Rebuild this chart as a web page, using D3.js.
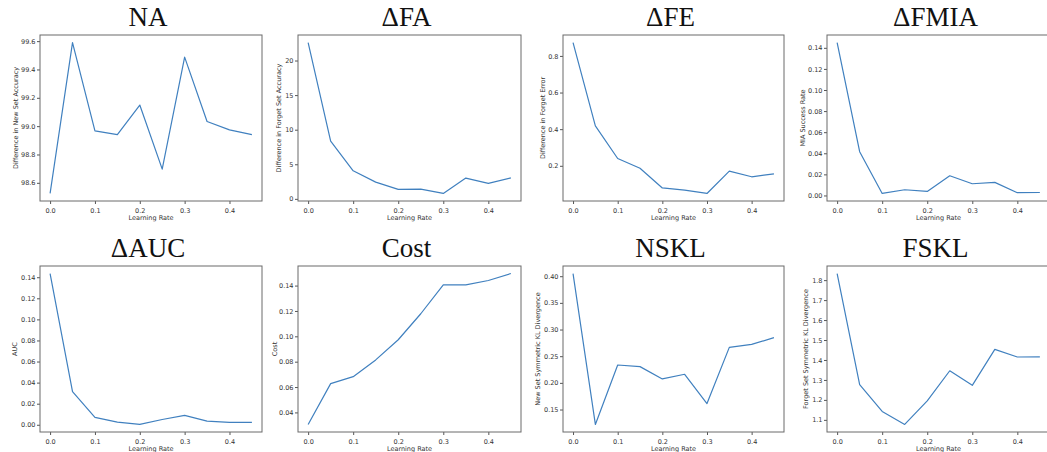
<!DOCTYPE html>
<html>
<head>
<meta charset="utf-8">
<script src="https://cdn.jsdelivr.net/npm/d3@7"></script>
<style>
  body { margin: 0; background: #fff; }
  svg { display: block; }
  .tick text { font-family: "DejaVu Sans", sans-serif; fill: #333; }
</style>
</head>
<body>
<script>
// Data
const learningRates = [0, 0.05, 0.1, 0.15, 0.2, 0.25, 0.3, 0.35, 0.4, 0.45];
const xTicks = [0, 0.1, 0.2, 0.3, 0.4];

const naValues = [98.525, 99.59, 98.967, 98.94, 99.149, 98.697, 99.487, 99.033, 98.974, 98.94];
const faValues = [22.6, 8.36, 4.06, 2.42, 1.36, 1.4, 0.78, 3.0, 2.23, 3.04];
const feValues = [0.873, 0.418, 0.24, 0.187, 0.079, 0.067, 0.049, 0.171, 0.14, 0.156];
const fmiaValues = [0.145, 0.0415, 0.0019, 0.0054, 0.0038, 0.0187, 0.0111, 0.0124, 0.0026, 0.0028];
const aucValues = [0.1435, 0.0314, 0.007, 0.0025, 0.0003, 0.005, 0.0089, 0.0035, 0.0022, 0.0022];
const costValues = [0.0305, 0.0627, 0.0682, 0.0814, 0.0973, 0.1178, 0.1405, 0.1405, 0.144, 0.1495];
const nsklValues = [0.405, 0.122, 0.2335, 0.2304, 0.2074, 0.2161, 0.1612, 0.2666, 0.2722, 0.2847];
const fsklValues = [1.833, 1.276, 1.142, 1.077, 1.195, 1.346, 1.273, 1.453, 1.415, 1.416];

const titles = ["NA", "\u0394FA", "\u0394FE", "\u0394FMIA", "\u0394AUC", "Cost", "NSKL", "FSKL"];
const yLabels = [
  "Difference in New Set Accuracy",
  "Difference in Forget Set Accuracy",
  "Difference in Forget Error",
  "MIA Success Rate",
  "AUC",
  "Cost",
  "New Set Symmetric KL Divergence",
  "Forget Set Symmetric KL Divergence"
];
const yTicks = [
  [98.6, 98.8, 99.0, 99.2, 99.4, 99.6],
  [0, 5, 10, 15, 20],
  [0.2, 0.4, 0.6, 0.8],
  [0, 0.02, 0.04, 0.06, 0.08, 0.1, 0.12, 0.14],
  [0, 0.02, 0.04, 0.06, 0.08, 0.1, 0.12, 0.14],
  [0.04, 0.06, 0.08, 0.1, 0.12, 0.14],
  [0.15, 0.2, 0.25, 0.3, 0.35, 0.4],
  [1.1, 1.2, 1.3, 1.4, 1.5, 1.6, 1.7, 1.8]
];
const yFormats = [".1f", "d", ".1f", ".2f", ".2f", ".2f", ".2f", ".1f"];
const seriesValues = [naValues, faValues, feValues, fmiaValues, aucValues, costValues, nsklValues, fsklValues];

// Layout
const cols = [[40, 262], [298, 521], [563, 784], [827, 1050]];
const rows = [[35, 201], [266, 432]];
const yLabelOffsets = [24, 19, 20, 24, 25, 23, 25, 21];
const tickFont = "6.5px";

const svg = d3.select("body").append("svg")
  .attr("width", 1047)
  .attr("height", 452);

seriesValues.forEach((values, i) => {
  const [x0, x1] = cols[i % 4];
  const [y0, y1] = rows[Math.floor(i / 4)];

  // matplotlib-like 5% margins
  const xExt = d3.extent(learningRates);
  const xPad = (xExt[1] - xExt[0]) * 0.05;
  const yExt = d3.extent(values);
  const yPad = (yExt[1] - yExt[0]) * 0.05;

  const x = d3.scaleLinear().domain([xExt[0] - xPad, xExt[1] + xPad]).range([x0, x1]);
  const y = d3.scaleLinear().domain([yExt[0] - yPad, yExt[1] + yPad]).range([y1, y0]);

  const g = svg.append("g");

  // Title
  g.append("text")
    .attr("x", (x0 + x1) / 2 - 3)
    .attr("y", y0 - 9)
    .attr("text-anchor", "middle")
    .style("font-family", "'Liberation Serif', 'DejaVu Serif', serif")
    .style("font-size", "27px")
    .attr("fill", "#111")
    .text(titles[i]);

  // Axes
  const xAxis = d3.axisBottom(x)
    .tickValues(xTicks)
    .tickFormat(d3.format(".1f"))
    .tickSize(3)
    .tickPadding(4);
  g.append("g")
    .attr("transform", `translate(0,${y1})`)
    .call(xAxis)
    .call(a => a.select(".domain").remove())
    .call(a => a.selectAll(".tick line").attr("stroke", "#555"))
    .call(a => a.selectAll(".tick text").style("font-size", tickFont));

  const yAxis = d3.axisLeft(y)
    .tickValues(yTicks[i])
    .tickFormat(d3.format(yFormats[i]))
    .tickSize(3)
    .tickPadding(1.5);
  g.append("g")
    .attr("transform", `translate(${x0},0)`)
    .call(yAxis)
    .call(a => a.select(".domain").remove())
    .call(a => a.selectAll(".tick line").attr("stroke", "#555"))
    .call(a => a.selectAll(".tick text").style("font-size", tickFont));

  // Line
  const line = d3.line()
    .x((d, j) => x(learningRates[j]))
    .y(d => y(d));
  g.append("path")
    .datum(values)
    .attr("fill", "none")
    .attr("stroke", "#4080bf")
    .attr("stroke-width", 1.2)
    .attr("stroke-linejoin", "round")
    .attr("d", line);

  // Frame
  g.append("rect")
    .attr("x", x0)
    .attr("y", y0)
    .attr("width", x1 - x0)
    .attr("height", y1 - y0)
    .attr("fill", "none")
    .attr("stroke", "#6a6a6a")
    .attr("stroke-width", 1);

  // Axis labels
  g.append("text")
    .attr("x", (x0 + x1) / 2)
    .attr("y", y1 + 18.5)
    .attr("text-anchor", "middle")
    .style("font-family", "'DejaVu Sans', sans-serif")
    .style("font-size", tickFont)
    .attr("fill", "#333")
    .text("Learning Rate");

  const lx = x0 - yLabelOffsets[i];
  const ly = (y0 + y1) / 2;
  g.append("text")
    .attr("transform", `translate(${lx},${ly}) rotate(-90)`)
    .attr("text-anchor", "middle")
    .attr("dy", "0.35em")
    .style("font-family", "'DejaVu Sans', sans-serif")
    .style("font-size", tickFont)
    .attr("fill", "#333")
    .text(yLabels[i]);
});
</script>
</body>
</html>
